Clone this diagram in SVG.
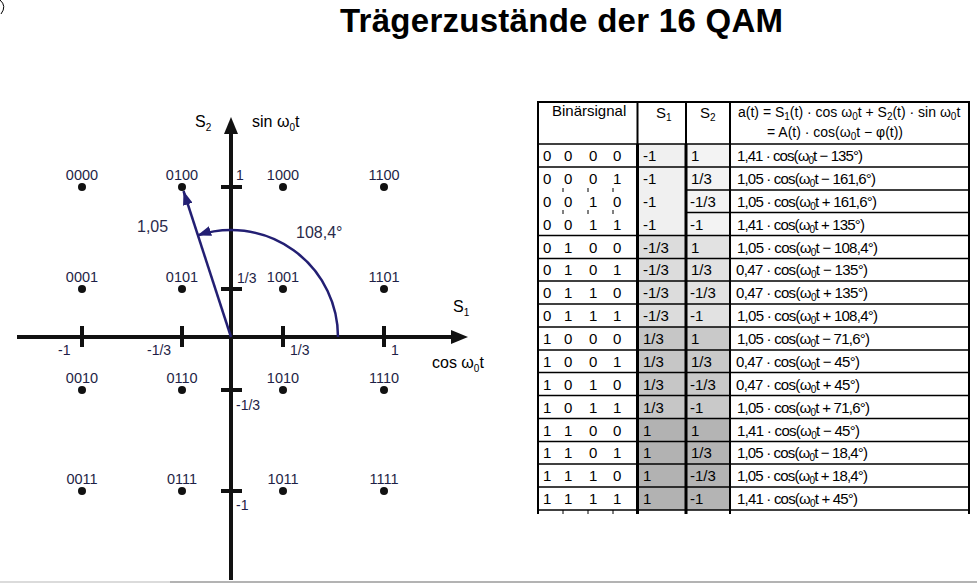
<svg xmlns="http://www.w3.org/2000/svg" width="977" height="583" viewBox="0 0 977 583">
<style>
text{font-family:"Liberation Sans",Arial,sans-serif}
.title{font-size:33px;font-weight:bold;fill:#000}
.pl{font-size:14.5px;fill:#1e1e46;text-anchor:middle}
.al{font-size:14px;fill:#1e1e46}
.ax{font-size:16px;fill:#000}
.vl{font-size:16px;fill:#2a2a4a}
.dot{fill:#111}
.axis{stroke:#111;stroke-width:4;fill:none}
.tk{stroke:#111;stroke-width:4}
.vec{stroke:#231f73;stroke-width:2.5;fill:none}
.tt{font-size:15px;fill:#000}
.tf{font-size:15px;fill:#000}
.th{font-size:14px;fill:#000}
.gl{stroke:#000;stroke-width:1.5}
.gv{stroke:#000;stroke-width:2}
.gt{stroke:#000;stroke-width:3}
</style>
<defs>
<marker id="ah" markerWidth="14" markerHeight="10" refX="14" refY="5" orient="auto" markerUnits="userSpaceOnUse">
<path d="M0,0 L14,5 L0,10 z" fill="#231f73"/>
</marker>
</defs>
<rect width="977" height="583" fill="#fff"/>
<path d="M0,0 Q7,6 1,14" stroke="#000" stroke-width="1" fill="none"/>
<line x1="0" y1="582" x2="170" y2="582" stroke="#cfcfcf" stroke-width="1.5"/>
<line x1="170" y1="582" x2="977" y2="582" stroke="#9a9a9a" stroke-width="1.5"/>
<text class="title" x="340" y="32" textLength="443">Trägerzustände der 16 QAM</text>

<g id="axes">
<line class="axis" x1="17" y1="337" x2="454" y2="337"/>
<polygon points="451,330 468,337 451,344" fill="#111"/>
<line class="axis" x1="231" y1="580" x2="231" y2="132"/>
<polygon points="224,134 231,117 238,134" fill="#111"/>
<line class="tk" x1="82" y1="326" x2="82" y2="347"/>
<line class="tk" x1="182" y1="326" x2="182" y2="347"/>
<line class="tk" x1="283" y1="326" x2="283" y2="347"/>
<line class="tk" x1="384" y1="326" x2="384" y2="347"/>
<line class="tk" x1="221" y1="187" x2="242" y2="187"/>
<line class="tk" x1="221" y1="289" x2="242" y2="289"/>
<line class="tk" x1="221" y1="390" x2="242" y2="390"/>
<line class="tk" x1="221" y1="491" x2="242" y2="491"/>
<text class="al" x="58" y="355">-1</text>
<text class="al" x="147" y="355">-1/3</text>
<text class="al" x="290" y="355">1/3</text>
<text class="al" x="391" y="355">1</text>
<text class="al" x="236" y="180">1</text>
<text class="al" x="237" y="283">1/3</text>
<text class="al" x="236" y="410">-1/3</text>
<text class="al" x="236" y="510">-1</text>
<text class="ax" x="453" y="312">S<tspan font-size="10" dy="4">1</tspan></text>
<text class="ax" x="432" y="368">cos ω<tspan font-size="10" dy="4">0</tspan><tspan dy="-4">t</tspan></text>
<text class="ax" x="195" y="127">S<tspan font-size="10" dy="4">2</tspan></text>
<text class="ax" x="252" y="127">sin ω<tspan font-size="10" dy="4">0</tspan><tspan dy="-4">t</tspan></text>
</g>

<g id="p0000"><circle class="dot" cx="82" cy="187" r="4"/><text class="pl" x="82" y="180">0000</text></g>
<g id="p0100"><circle class="dot" cx="182" cy="187" r="4"/><text class="pl" x="182" y="180">0100</text></g>
<g id="p1000"><circle class="dot" cx="283" cy="187" r="4"/><text class="pl" x="283" y="180">1000</text></g>
<g id="p1100"><circle class="dot" cx="384" cy="187" r="4"/><text class="pl" x="384" y="180">1100</text></g>
<g id="p0001"><circle class="dot" cx="82" cy="289" r="4"/><text class="pl" x="82" y="282">0001</text></g>
<g id="p0101"><circle class="dot" cx="182" cy="289" r="4"/><text class="pl" x="182" y="282">0101</text></g>
<g id="p1001"><circle class="dot" cx="283" cy="289" r="4"/><text class="pl" x="283" y="282">1001</text></g>
<g id="p1101"><circle class="dot" cx="384" cy="289" r="4"/><text class="pl" x="384" y="282">1101</text></g>
<g id="p0010"><circle class="dot" cx="82" cy="390" r="4"/><text class="pl" x="82" y="383">0010</text></g>
<g id="p0110"><circle class="dot" cx="182" cy="390" r="4"/><text class="pl" x="182" y="383">0110</text></g>
<g id="p1010"><circle class="dot" cx="283" cy="390" r="4"/><text class="pl" x="283" y="383">1010</text></g>
<g id="p1110"><circle class="dot" cx="384" cy="390" r="4"/><text class="pl" x="384" y="383">1110</text></g>
<g id="p0011"><circle class="dot" cx="82" cy="491" r="4"/><text class="pl" x="82" y="484">0011</text></g>
<g id="p0111"><circle class="dot" cx="182" cy="491" r="4"/><text class="pl" x="182" y="484">0111</text></g>
<g id="p1011"><circle class="dot" cx="283" cy="491" r="4"/><text class="pl" x="283" y="484">1011</text></g>
<g id="p1111"><circle class="dot" cx="384" cy="491" r="4"/><text class="pl" x="384" y="484">1111</text></g>

<g id="connectors">
<line class="vec" x1="231" y1="337" x2="183.5" y2="191" marker-end="url(#ah)"/>
<path class="vec" d="M338,337 A107,107 0 0 0 197.2,235.5" marker-end="url(#ah)"/>
<text class="vl" x="137" y="232">1,05</text>
<text class="vl" x="296" y="238">108,4°</text>
</g>

<g id="table">
<rect x="638" y="144" width="48" height="91.5" fill="#f0f0f0"/>
<rect x="638" y="235.5" width="48" height="91.5" fill="#dcdcdc"/>
<rect x="638" y="327" width="48" height="91.5" fill="#c6c6c6"/>
<rect x="638" y="418.5" width="48" height="91.5" fill="#b2b2b2"/>
<rect x="686" y="144" width="44" height="91.5" fill="#f3f3f3"/>
<rect x="686" y="235.5" width="44" height="91.5" fill="#e2e2e2"/>
<rect x="686" y="327" width="44" height="91.5" fill="#c9c9c9"/>
<rect x="686" y="418.5" width="44" height="91.5" fill="#b4b4b4"/>
<line class="gv" x1="538" y1="102" x2="969" y2="102"/>
<line class="gl" x1="538" y1="144" x2="969" y2="144"/>
<line class="gl" x1="538" y1="510" x2="969" y2="510"/>
<line class="gl" x1="538" y1="167" x2="969" y2="167"/>
<line class="gl" x1="686" y1="190" x2="969" y2="190"/>
<line class="gl" x1="686" y1="212.5" x2="969" y2="212.5"/>
<line class="gl" x1="538" y1="235.5" x2="969" y2="235.5"/>
<line class="gl" x1="538" y1="258.5" x2="969" y2="258.5"/>
<line class="gl" x1="538" y1="281" x2="969" y2="281"/>
<line class="gl" x1="538" y1="304" x2="969" y2="304"/>
<line class="gl" x1="538" y1="327" x2="969" y2="327"/>
<line class="gl" x1="538" y1="350" x2="969" y2="350"/>
<line class="gl" x1="538" y1="372.5" x2="969" y2="372.5"/>
<line class="gl" x1="538" y1="395.5" x2="969" y2="395.5"/>
<line class="gl" x1="538" y1="418.5" x2="969" y2="418.5"/>
<line class="gl" x1="538" y1="441.5" x2="969" y2="441.5"/>
<line class="gl" x1="538" y1="464" x2="969" y2="464"/>
<line class="gl" x1="538" y1="487" x2="969" y2="487"/>
<line class="gv" x1="538" y1="101" x2="538" y2="514"/>
<line class="gv" x1="969" y1="101" x2="969" y2="514"/>
<line class="gv" x1="637.5" y1="102" x2="637.5" y2="144"/>
<line class="gt" x1="637.5" y1="144" x2="637.5" y2="514"/>
<line class="gv" x1="686" y1="102" x2="686" y2="144"/>
<line class="gt" x1="686" y1="144" x2="686" y2="514"/>
<line class="gv" x1="730" y1="102" x2="730" y2="514"/>
<g stroke="#000" stroke-width="1">
<line x1="563" y1="188" x2="563" y2="192"/><line x1="588" y1="188" x2="588" y2="192"/><line x1="613" y1="188" x2="613" y2="192"/>
<line x1="563" y1="210" x2="563" y2="214"/><line x1="588" y1="210" x2="588" y2="214"/><line x1="613" y1="210" x2="613" y2="214"/>
<line x1="563" y1="510" x2="563" y2="514"/><line x1="588" y1="510" x2="588" y2="514"/><line x1="613" y1="510" x2="613" y2="514"/>
</g>
<text class="tt" x="552" y="116">Binärsignal</text>
<text class="tt" x="656" y="118">S<tspan font-size="10" dy="3">1</tspan></text>
<text class="tt" x="700" y="118">S<tspan font-size="10" dy="3">2</tspan></text>
<text class="th" x="738" y="117">a(t) = S<tspan font-size="10" dy="3">1</tspan><tspan dy="-3">(t) · cos ω</tspan><tspan font-size="10" dy="3">0</tspan><tspan dy="-3">t + S</tspan><tspan font-size="10" dy="3">2</tspan><tspan dy="-3">(t) · sin ω</tspan><tspan font-size="10" dy="3">0</tspan><tspan dy="-3">t</tspan></text>
<text class="th" x="767" y="137">= A(t) · cos(ω<tspan font-size="10" dy="3">0</tspan><tspan dy="-3">t − φ(t))</tspan></text>
<g>
<text class="tt" x="543 564 589 613" y="161">0000</text>
<text class="tt" x="543 564 589 613" y="184">0001</text>
<text class="tt" x="543 564 589 613" y="206.5">0010</text>
<text class="tt" x="543 564 589 613" y="229.5">0011</text>
<text class="tt" x="543 564 589 613" y="252.5">0100</text>
<text class="tt" x="543 564 589 613" y="275">0101</text>
<text class="tt" x="543 564 589 613" y="298">0110</text>
<text class="tt" x="543 564 589 613" y="321">0111</text>
<text class="tt" x="543 564 589 613" y="344">1000</text>
<text class="tt" x="543 564 589 613" y="366.5">1001</text>
<text class="tt" x="543 564 589 613" y="389.5">1010</text>
<text class="tt" x="543 564 589 613" y="412.5">1011</text>
<text class="tt" x="543 564 589 613" y="435.5">1100</text>
<text class="tt" x="543 564 589 613" y="458">1101</text>
<text class="tt" x="543 564 589 613" y="481">1110</text>
<text class="tt" x="543 564 589 613" y="504">1111</text>
</g>
<g>
<text class="tt" x="643" y="161">-1</text><text class="tt" x="691" y="161">1</text>
<text class="tt" x="643" y="184">-1</text><text class="tt" x="691" y="184">1/3</text>
<text class="tt" x="643" y="206.5">-1</text><text class="tt" x="690" y="206.5">-1/3</text>
<text class="tt" x="643" y="229.5">-1</text><text class="tt" x="690" y="229.5">-1</text>
<text class="tt" x="643" y="252.5">-1/3</text><text class="tt" x="691" y="252.5">1</text>
<text class="tt" x="643" y="275">-1/3</text><text class="tt" x="691" y="275">1/3</text>
<text class="tt" x="643" y="298">-1/3</text><text class="tt" x="690" y="298">-1/3</text>
<text class="tt" x="643" y="321">-1/3</text><text class="tt" x="690" y="321">-1</text>
<text class="tt" x="643" y="344">1/3</text><text class="tt" x="691" y="344">1</text>
<text class="tt" x="643" y="366.5">1/3</text><text class="tt" x="691" y="366.5">1/3</text>
<text class="tt" x="643" y="389.5">1/3</text><text class="tt" x="690" y="389.5">-1/3</text>
<text class="tt" x="643" y="412.5">1/3</text><text class="tt" x="690" y="412.5">-1</text>
<text class="tt" x="643" y="435.5">1</text><text class="tt" x="691" y="435.5">1</text>
<text class="tt" x="643" y="458">1</text><text class="tt" x="691" y="458">1/3</text>
<text class="tt" x="643" y="481">1</text><text class="tt" x="690" y="481">-1/3</text>
<text class="tt" x="643" y="504">1</text><text class="tt" x="690" y="504">-1</text>
</g>
<g>
<text class="tf" x="737" y="161" textLength="126">1,41 · cos(ω<tspan font-size="10" dy="3">0</tspan><tspan dy="-3">t − 135°)</tspan></text>
<text class="tf" x="737" y="184" textLength="139">1,05 · cos(ω<tspan font-size="10" dy="3">0</tspan><tspan dy="-3">t − 161,6°)</tspan></text>
<text class="tf" x="737" y="206.5" textLength="140">1,05 · cos(ω<tspan font-size="10" dy="3">0</tspan><tspan dy="-3">t + 161,6°)</tspan></text>
<text class="tf" x="737" y="229.5" textLength="128">1,41 · cos(ω<tspan font-size="10" dy="3">0</tspan><tspan dy="-3">t + 135°)</tspan></text>
<text class="tf" x="737" y="252.5" textLength="141">1,05 · cos(ω<tspan font-size="10" dy="3">0</tspan><tspan dy="-3">t − 108,4°)</tspan></text>
<text class="tf" x="736" y="275" textLength="132">0,47 · cos(ω<tspan font-size="10" dy="3">0</tspan><tspan dy="-3">t − 135°)</tspan></text>
<text class="tf" x="736" y="298" textLength="132">0,47 · cos(ω<tspan font-size="10" dy="3">0</tspan><tspan dy="-3">t + 135°)</tspan></text>
<text class="tf" x="737" y="321" textLength="141">1,05 · cos(ω<tspan font-size="10" dy="3">0</tspan><tspan dy="-3">t + 108,4°)</tspan></text>
<text class="tf" x="737" y="344" textLength="133">1,05 · cos(ω<tspan font-size="10" dy="3">0</tspan><tspan dy="-3">t − 71,6°)</tspan></text>
<text class="tf" x="736" y="366.5" textLength="124">0,47 · cos(ω<tspan font-size="10" dy="3">0</tspan><tspan dy="-3">t − 45°)</tspan></text>
<text class="tf" x="736" y="389.5" textLength="124">0,47 · cos(ω<tspan font-size="10" dy="3">0</tspan><tspan dy="-3">t + 45°)</tspan></text>
<text class="tf" x="737" y="412.5" textLength="133">1,05 · cos(ω<tspan font-size="10" dy="3">0</tspan><tspan dy="-3">t + 71,6°)</tspan></text>
<text class="tf" x="737" y="435.5" textLength="123">1,41 · cos(ω<tspan font-size="10" dy="3">0</tspan><tspan dy="-3">t − 45°)</tspan></text>
<text class="tf" x="737" y="458" textLength="131">1,05 · cos(ω<tspan font-size="10" dy="3">0</tspan><tspan dy="-3">t − 18,4°)</tspan></text>
<text class="tf" x="737" y="481" textLength="131">1,05 · cos(ω<tspan font-size="10" dy="3">0</tspan><tspan dy="-3">t + 18,4°)</tspan></text>
<text class="tf" x="737" y="504" textLength="121">1,41 · cos(ω<tspan font-size="10" dy="3">0</tspan><tspan dy="-3">t + 45°)</tspan></text>
</g>
</g>
</svg>
